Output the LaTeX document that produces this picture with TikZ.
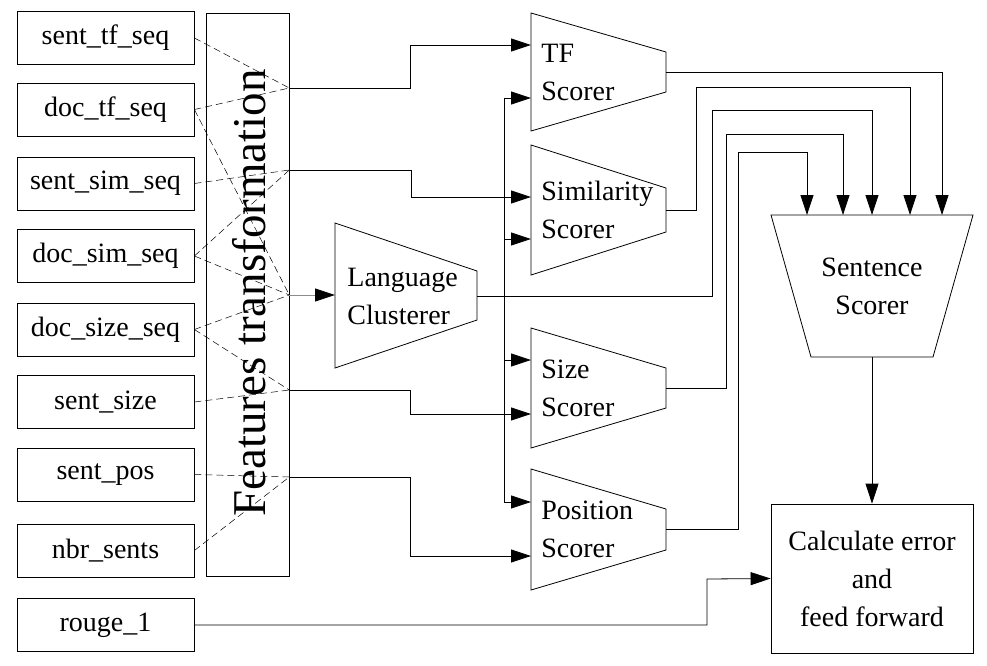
\documentclass[tikz,border=0pt]{standalone}
\usepackage{fontspec}
\setmainfont{Liberation Serif}
\usetikzlibrary{arrows.meta}
\begin{document}
\begin{tikzpicture}[x=1pt,y=-1pt,
  line width=0.8pt,
  txt/.style={font=\fontsize{28}{38}\selectfont},
  inbox/.style={draw,txt,minimum width=177pt,minimum height=53pt,inner sep=0pt},
  dsh/.style={line width=0.5pt,dash pattern=on 7pt off 4pt},
  arr/.style={-{Triangle[length=20pt,width=13pt,color=black]}},
  lbl/.style={txt,align=left,anchor=west,inner sep=0pt},
  clbl/.style={txt,align=center,inner sep=0pt}]
\useasboundingbox (0,0) rectangle (987,665);
% input boxes
\node[inbox] (stf)   at (105.5,38)    {sent\_tf\_seq};
\node[inbox] (dtf)   at (105.5,109.5) {doc\_tf\_seq};
\node[inbox] (ssim)  at (105.5,183.5) {sent\_sim\_seq};
\node[inbox] (dsim)  at (105.5,256)   {doc\_sim\_seq};
\node[inbox] (dsize) at (105.5,329.5) {doc\_size\_seq};
\node[inbox] (ssize) at (105.5,402)   {sent\_size};
\node[inbox] (spos)  at (105.5,474.5) {sent\_pos};
\node[inbox] (nbr)   at (105.5,550.5) {nbr\_sents};
\node[inbox] (rouge) at (105.5,625)   {rouge\_1};
% features transformation
\node[draw,minimum width=82.6pt,minimum height=563pt,inner sep=0pt] (feat) at (248,294.5) {};
\node[rotate=90,inner sep=0pt,font=\fontsize{47}{50}\selectfont] (featt) at (249,293) {Features transformation};
% junctions
\coordinate (J1) at (289.3,88);
\coordinate (J2) at (289.3,170);
\coordinate (J3) at (289.3,295);
\coordinate (J4) at (289.3,390);
\coordinate (J5) at (289.3,477);
\draw[dsh] (stf.east) -- (J1);
\draw[dsh] (dtf.east) -- (J1);
\draw[dsh] (dtf.east) -- (J3);
\draw[dsh] (ssim.east) -- (J2);
\draw[dsh] (dsim.east) -- (J2);
\draw[dsh] (dsim.east) -- (J3);
\draw[dsh] (dsize.east) -- (J3);
\draw[dsh] (dsize.east) -- (J4);
\draw[dsh] (ssize.east) -- (J4);
\draw[dsh] (spos.east) -- (J5);
\draw[dsh] (nbr.east) -- (J5);
% language clusterer
\draw (335,223) -- (477,271) -- (477,320) -- (335,368) -- cycle;
\node[lbl] (lct) at (347,296) {Language\\Clusterer};
\coordinate (lcin) at (335,295);
\coordinate (lcout) at (477,296);
% scorers
\draw (531,13) -- (666,52) -- (666,92) -- (531,131) -- cycle;
\node[lbl] (tft) at (541,72) {TF\\Scorer};
\draw (531,145) -- (666,188) -- (666,232) -- (531,275) -- cycle;
\node[lbl] (simt) at (541,210) {Similarity\\Scorer};
\draw (531,328) -- (666,368) -- (666,408) -- (531,448) -- cycle;
\node[lbl] (sizet) at (541,388) {Size\\Scorer};
\draw (531,469) -- (666,509) -- (666,550) -- (531,590) -- cycle;
\node[lbl] (post) at (541,529.5) {Position\\Scorer};
\coordinate (tfin1) at (531,45);   \coordinate (tfin2) at (531,98);   \coordinate (tfout) at (666,72);
\coordinate (simin1) at (531,197); \coordinate (simin2) at (531,239); \coordinate (simout) at (666,210);
\coordinate (sizein1) at (531,360);\coordinate (sizein2) at (531,414);\coordinate (sizeout) at (666,388);
\coordinate (posin1) at (531,502); \coordinate (posin2) at (531,556); \coordinate (posout) at (666,529.5);
% sentence scorer
\draw (771,215) -- (973,215) -- (933,357) -- (811,357) -- cycle;
\node[clbl] (sst) at (872,286) {Sentence\\Scorer};
\coordinate (ss1) at (807,215); \coordinate (ss2) at (843,215); \coordinate (ss3) at (872,215);
\coordinate (ss4) at (910,215); \coordinate (ss5) at (942,215);
\coordinate (ssout) at (872,357);
% calc box
\node[draw,minimum width=202pt,minimum height=149pt,inner sep=0pt,clbl] (calc) at (872,578.5) {Calculate error\\and\\feed forward};
% feature paths
\draw[arr] (J1) -| (410,45) -- (tfin1);
\draw[arr] (J2) -| (411,197) -- (simin1);
\draw[arr,draw=black!45] (J3) -- (lcin);
\draw[arr] (J4) -| (410,414) -- (sizein2);
\draw[arr] (J5) -| (410,556) -- (posin2);
% language bus
\coordinate (busj) at (504,296);
\draw (lcout) -- (busj);
\draw[arr] (busj) |- (tfin2);
\draw[arr] (busj) |- (simin2);
\draw[arr] (busj) |- (sizein1);
\draw[arr] (busj) |- (posin1);
% to sentence scorer
\draw[arr] (tfout) -| (ss5);
\draw[arr] (simout) -| (696,87) -| (ss4);
\draw[arr] (busj) -| (712,110) -| (ss3);
\draw[arr] (sizeout) -| (726,134) -| (ss2);
\draw[arr] (posout) -| (738,152) -| (ss1);
\draw[arr] (ssout) -- (calc.north);
\draw[arr] (rouge.east) -| (707,579) -- (calc.west);
\end{tikzpicture}
\end{document}
